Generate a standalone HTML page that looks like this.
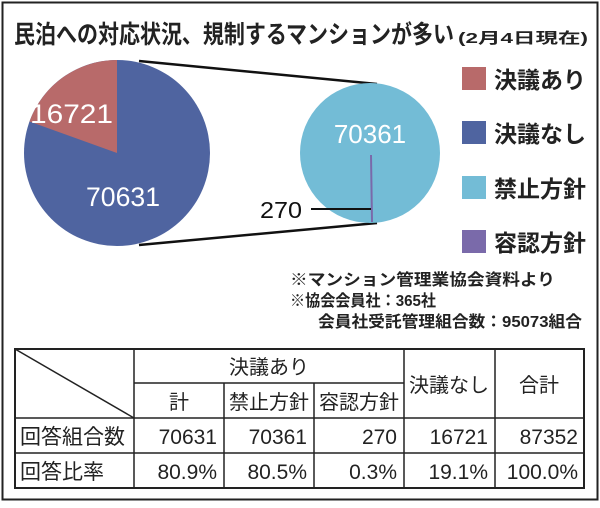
<!DOCTYPE html>
<html><head><meta charset="utf-8"><style>
body{margin:0;background:#fff;}
svg text{font-family:"Liberation Sans","Noto Sans CJK JP",sans-serif;}
</style></head><body>
<svg width="600" height="503" viewBox="0 0 600 503" xmlns="http://www.w3.org/2000/svg">
<rect x="2.5" y="2.5" width="595" height="497" fill="#fff" stroke="#222" stroke-width="2"/>
<text x="14" y="43" font-size="25" font-weight="bold" fill="#222" textLength="440" lengthAdjust="spacingAndGlyphs">民泊への対応状況、規制するマンションが多い</text>
<text x="458" y="43" font-size="15" font-weight="bold" fill="#222" textLength="130" lengthAdjust="spacingAndGlyphs">(2月4日現在)</text>
<line x1="139" y1="61" x2="377" y2="84" stroke="#111" stroke-width="2.5"/>
<line x1="139" y1="245" x2="377" y2="223" stroke="#111" stroke-width="2.5"/>
<circle cx="117" cy="153" r="93" fill="#4f64a0"/>
<path d="M117 153 L117 60 A93 93 0 0 0 29.5 121.5 Z" fill="#b86a6a"/>
<text x="30" y="123" font-size="27" fill="#fff" textLength="83" lengthAdjust="spacingAndGlyphs">16721</text>
<text x="86" y="206" font-size="27" fill="#fff" textLength="74" lengthAdjust="spacingAndGlyphs">70631</text>
<circle cx="370" cy="153" r="70" fill="#73bcd6"/>
<line x1="371" y1="155" x2="372" y2="222" stroke="#7a6aaa" stroke-width="2"/>
<text x="370" y="143" font-size="26" fill="#fff" text-anchor="middle">70361</text>
<text x="260" y="218" font-size="23" fill="#111" textLength="42" lengthAdjust="spacingAndGlyphs">270</text>
<line x1="311" y1="209" x2="371" y2="209" stroke="#111" stroke-width="2"/>
<rect x="462" y="67" width="24" height="23" fill="#b86a6a"/>
<rect x="462" y="121" width="24" height="23" fill="#4f64a0"/>
<rect x="462" y="176" width="24" height="23" fill="#73bcd6"/>
<rect x="462" y="230" width="24" height="23" fill="#7a6aaa"/>
<g font-size="23" font-weight="bold" fill="#222">
<text x="494" y="88">決議あり</text>
<text x="494" y="142">決議なし</text>
<text x="494" y="197">禁止方針</text>
<text x="494" y="251">容認方針</text>
</g>
<g font-size="16" font-weight="bold" fill="#222">
<text x="290" y="285" textLength="265" lengthAdjust="spacingAndGlyphs">※マンション管理業協会資料より</text>
<text x="290" y="306" textLength="146" lengthAdjust="spacingAndGlyphs">※協会会員社：365社</text>
<text x="318" y="327" textLength="264" lengthAdjust="spacingAndGlyphs">会員社受託管理組合数：95073組合</text>
</g>
<g stroke="#222" stroke-width="1.5" fill="none">
<rect x="15" y="349" width="569" height="139" stroke-width="2"/>
<line x1="134" y1="349" x2="134" y2="488"/>
<line x1="224" y1="383" x2="224" y2="488"/>
<line x1="314" y1="383" x2="314" y2="488"/>
<line x1="404" y1="349" x2="404" y2="488"/>
<line x1="495" y1="349" x2="495" y2="488"/>
<line x1="134" y1="383" x2="404" y2="383"/>
<line x1="15" y1="418" x2="584" y2="418"/>
<line x1="15" y1="453" x2="584" y2="453"/>
<line x1="15" y1="349" x2="134" y2="418"/>
</g>
<g font-size="20" fill="#222">
<text x="269" y="374" text-anchor="middle">決議あり</text>
<text x="179" y="409" text-anchor="middle">計</text>
<text x="269" y="409" text-anchor="middle">禁止方針</text>
<text x="359" y="409" text-anchor="middle">容認方針</text>
<text x="449" y="392" text-anchor="middle">決議なし</text>
<text x="539" y="392" text-anchor="middle">合計</text>
<text x="20" y="444" font-size="21">回答組合数</text>
<text x="20" y="479" font-size="21">回答比率</text>
<g text-anchor="end" font-size="21">
<text x="217" y="444">70631</text><text x="307" y="444">70361</text><text x="397" y="444">270</text><text x="488" y="444">16721</text><text x="578" y="444">87352</text>
<text x="217" y="479">80.9%</text><text x="307" y="479">80.5%</text><text x="397" y="479">0.3%</text><text x="488" y="479">19.1%</text><text x="578" y="479">100.0%</text>
</g></g>
</svg>
</body></html>
